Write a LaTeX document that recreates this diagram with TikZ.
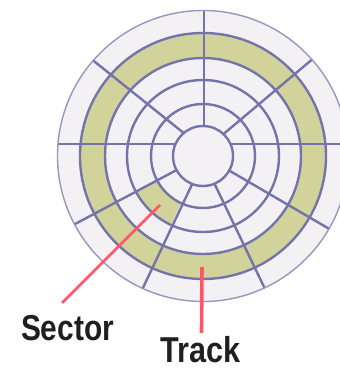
\documentclass[tikz,border=0pt]{standalone}
\usepackage{fontspec}
\setmainfont{Liberation Sans}
\usetikzlibrary{calc}
\definecolor{disk}{HTML}{F3F1F4}
\definecolor{trk}{HTML}{D2D39A}
\definecolor{ln}{HTML}{7474AA}
\definecolor{ptr}{HTML}{FF5566}
\begin{document}
\begin{tikzpicture}[x=1pt,y=1pt,
  ringline/.style={draw=ln, line width=2.4pt},
  rimline/.style={draw=ln!75, line width=1.4pt},
  pointer/.style={draw=ptr, line width=2.6pt},
  lbl/.style={font=\fontsize{36}{40}\selectfont\bfseries, text=black!88, inner sep=0pt}]
\useasboundingbox (0,0) rectangle (340,370);
\clip (0,0) rectangle (340,370);
\coordinate (c) at (203,214);
% disk body
\fill[disk] (c) circle (146);
\fill[trk, even odd rule] (c) circle (123) (c) circle (98);
% highlighted sector
\fill[trk] ($(c)+(209:52)$) arc[start angle=209, end angle=245, radius=52]
  -- ($(c)+(245:76)$) arc[start angle=245, end angle=209, radius=76] -- cycle;
% spokes
\foreach \a/\b in {41.5/47, 139/130, 208/208, 245.5/249, 295/292.5, 330/331}
  \draw[ringline] ($(c)+(\a:146)$) -- ($(c)+(\b:30)$);
\draw[ringline] ($(c)+(1,146)$) -- ($(c)+(1,30)$);
\draw[ringline] ($(c)+(-145.5,12)$) -- ($(c)+(-27.5,12)$);
\draw[ringline] ($(c)+(27.5,12)$) -- ($(c)+(146,12)$);
% tracks
\foreach \r in {30,52,76,98,123}
  \draw[ringline] (c) circle (\r);
\draw[rimline] (c) circle (145.5);
% labels and pointers
\node[lbl, anchor=base] (sector) at (67.5,30) {\scalebox{0.83}[1]{Sector}};
\node[lbl, anchor=base] (track) at (200.5,7) {\scalebox{0.85}[1]{Track}};
\coordinate (sa) at (62,67);
\coordinate (sb) at (160,165);
\coordinate (ta) at (201.5,37);
\coordinate (tb) at (202,103);
\draw[pointer] (sa) -- (sb);
\draw[pointer, line width=3.6pt] (ta) -- (tb);
\end{tikzpicture}
\end{document}
